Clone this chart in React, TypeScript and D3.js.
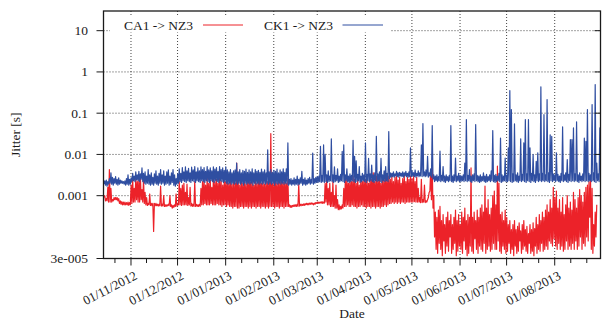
import React from "react"
import * as d3 from "d3"

// jitter in milliseconds, one low / high pair per day, day 0 = 14 Oct 2012
const caLo = [
  0.9, 0.75, 0.75, 0.7, 0.7, 0.7, 0.75, 0.8, 0.8, 0.75,
  0.65, 0.62, 0.6, 0.6, 0.6, 0.6, 0.58, 0.6, 0.65, 0.7,
  0.7, 0.8, 0.7, 0.7, 0.8, 0.7, 0.65, 0.6, 0.58, 0.6,
  0.58, 0.57, 0.136, 0.57, 0.57, 0.56, 0.57, 0.56, 0.56, 0.55,
  0.55, 0.57, 0.57, 0.55, 0.5, 0.52, 0.55, 0.56, 0.6, 0.6,
  0.58, 0.6, 0.6, 0.6, 0.58, 0.6, 0.56, 0.55, 0.55, 0.55,
  0.55, 0.55, 0.55, 0.6, 0.6, 0.65, 0.6, 0.6, 0.6, 0.65,
  0.6, 0.6, 0.6, 0.65, 0.6, 0.6, 0.55, 0.6, 0.6, 0.55,
  0.6, 0.55, 0.55, 0.5, 0.55, 0.55, 0.5, 0.5, 0.55, 0.55,
  0.5, 0.55, 0.55, 0.5, 0.55, 0.5, 0.55, 0.55, 0.5, 0.55,
  0.55, 0.5, 0.55, 0.55, 0.5, 0.55, 0.5, 0.55, 0.55, 0.55,
  0.5, 0.55, 0.55, 0.5, 0.55, 0.55, 0.5, 0.55, 0.55, 0.55,
  0.52, 0.52, 0.55, 0.55, 0.55, 0.55, 0.56, 0.57, 0.58, 0.58,
  0.6, 0.6, 0.6, 0.62, 0.62, 0.6, 0.62, 0.65, 0.65, 0.66,
  0.66, 0.65, 0.66, 0.7, 0.6, 0.6, 0.55, 0.55, 0.55, 0.5,
  0.5, 0.46, 0.46, 0.48, 0.5, 0.55, 0.55, 0.6, 0.55, 0.55,
  0.6, 0.55, 0.55, 0.5, 0.55, 0.55, 0.6, 0.55, 0.55, 0.5,
  0.55, 0.55, 0.5, 0.55, 0.55, 0.5, 0.55, 0.55, 0.5, 0.55,
  0.55, 0.6, 0.55, 0.6, 0.65, 0.65, 0.7, 0.65, 0.7, 0.65,
  0.7, 0.65, 0.7, 0.7, 0.65, 0.7, 0.7, 0.7, 0.7, 0.7,
  0.72, 0.7, 0.7, 0.7, 0.68, 0.68, 0.7, 0.68, 0.7, 0.9,
  1.3, 0.8, 0.5, 0.1, 0.05, 0.04, 0.07, 0.05, 0.035, 0.08,
  0.04, 0.06, 0.045, 0.1, 0.04, 0.05, 0.07, 0.035, 0.045, 0.06,
  0.05, 0.04, 0.08, 0.05, 0.035, 0.04, 0.06, 0.045, 0.04, 0.09,
  0.05, 0.04, 0.06, 0.05, 0.045, 0.07, 0.04, 0.05, 0.06, 0.045,
  0.05, 0.07, 0.05, 0.05, 0.08, 0.045, 0.04, 0.06, 0.05, 0.04,
  0.045, 0.07, 0.04, 0.05, 0.035, 0.06, 0.04, 0.045, 0.08, 0.04,
  0.05, 0.06, 0.045, 0.04, 0.07, 0.04, 0.045, 0.035, 0.06, 0.04,
  0.05, 0.045, 0.07, 0.045, 0.05, 0.06, 0.05, 0.08, 0.07, 0.06,
  0.09, 0.06, 0.05, 0.07, 0.05, 0.06, 0.045, 0.05, 0.08, 0.05,
  0.06, 0.05, 0.07, 0.05, 0.08, 0.05, 0.06, 0.1, 0.05, 0.07,
  0.06, 0.1, 0.08, 0.3, 0.05, 0.04, 0.06, 0.1,
]
const caHi = [
  1.0, 0.85, 1.6, 4.3, 1.5, 0.8, 0.9, 0.9, 0.9, 0.85,
  0.75, 0.72, 0.7, 0.7, 0.68, 0.7, 0.68, 1.8, 2.6, 1.5,
  2.7, 2.2, 2.5, 2.8, 1.4, 2.6, 1.2, 0.9, 0.65, 1.1,
  0.65, 0.65, 0.65, 0.65, 0.62, 0.62, 1.7, 0.62, 1.0, 0.6,
  0.6, 0.62, 1.0, 0.6, 0.58, 0.6, 1.1, 0.62, 2.2, 1.5,
  1.8, 2.0, 1.2, 1.9, 0.9, 1.6, 0.65, 0.62, 2.2, 0.62,
  0.6, 0.62, 1.5, 2.2, 2.5, 1.8, 2.7, 2.0, 2.4, 1.6,
  2.6, 2.2, 2.5, 2.0, 2.7, 2.3, 1.8, 2.5, 2.2, 2.4,
  2.0, 2.6, 1.9, 2.2, 2.0, 6.2, 2.3, 1.8, 2.4, 2.0,
  2.5, 1.9, 2.2, 3.0, 2.1, 2.4, 1.8, 2.6, 2.0, 2.3,
  3.4, 2.0, 2.5, 1.9, 2.4, 2.2, 2.6, 32, 2.0, 2.3,
  2.6, 2.0, 2.4, 2.2, 2.7, 2.1, 2.5, 2.0, 2.6, 0.6,
  0.58, 0.58, 0.6, 0.6, 0.62, 1.9, 0.62, 0.62, 0.63, 0.64,
  0.65, 0.65, 0.66, 0.67, 0.66, 0.66, 0.68, 0.7, 0.7, 0.7,
  0.72, 0.7, 2.0, 2.4, 1.5, 2.0, 1.2, 2.2, 1.0, 1.8,
  0.8, 0.6, 0.55, 0.6, 1.5, 2.4, 3.0, 2.0, 2.8, 2.2,
  3.0, 2.5, 2.0, 2.8, 1.8, 2.6, 2.2, 3.0, 2.4, 2.8,
  2.0, 3.2, 2.5, 3.6, 2.2, 3.0, 2.5, 3.3, 2.0, 2.8,
  2.4, 3.2, 2.6, 3.0, 2.5, 3.0, 2.2, 2.8, 3.0, 2.4,
  2.8, 2.0, 2.6, 3.0, 2.2, 2.8, 2.5, 3.0, 2.6, 2.9,
  2.2, 2.8, 1.5, 0.9, 2.5, 0.8, 1.8, 0.75, 0.8, 1.2,
  4.3, 5.0, 1.0, 0.4, 0.3, 0.45, 0.55, 0.25, 0.35, 0.2,
  0.3, 0.4, 0.25, 0.35, 0.2, 0.3, 0.45, 0.25, 0.35, 0.2,
  0.4, 0.3, 0.5, 0.25, 0.35, 0.3, 4.7, 0.3, 0.4, 0.25,
  0.45, 0.3, 0.5, 0.6, 0.4, 1.7, 0.5, 0.8, 0.35, 0.5,
  1.0, 1.3, 0.6, 5.2, 2.0, 0.35, 0.4, 0.25, 0.45, 0.3,
  0.2, 0.25, 0.15, 0.2, 0.25, 0.15, 0.18, 0.22, 0.14, 0.2,
  0.25, 0.15, 0.18, 0.12, 0.2, 0.15, 0.22, 0.16, 0.3, 0.2,
  0.35, 0.25, 0.4, 0.3, 0.45, 0.6, 0.4, 0.8, 0.5, 1.6,
  0.9, 1.3, 0.5, 0.8, 0.4, 0.9, 0.35, 0.6, 1.0, 0.5,
  0.7, 0.45, 1.2, 0.8, 0.5, 0.9, 1.4, 1.0, 0.7, 1.2,
  1.6, 1.8, 2.2, 2.4, 1.5, 0.2, 0.4, 0.6,
]
const ckLo = [
  1.9, 1.8, 1.7, 1.9, 2.0, 1.9, 1.8, 2.0, 1.9, 1.8,
  1.9, 2.0, 2.0, 1.9, 1.8, 1.9, 1.8, 1.9, 2.2, 2.3,
  2.2, 2.4, 2.3, 2.2, 2.5, 2.2, 2.0, 1.9, 2.0, 1.9,
  1.8, 1.9, 1.8, 2.0, 1.9, 1.8, 2.0, 1.9, 2.0, 1.8,
  1.9, 2.0, 1.8, 1.9, 2.1, 1.8, 1.7, 1.9, 2.0, 2.2,
  2.1, 2.3, 2.2, 2.1, 2.3, 2.2, 2.1, 2.3, 2.2, 2.1,
  2.3, 2.2, 2.1, 2.3, 2.2, 2.1, 2.3, 2.2, 2.1, 2.3,
  2.2, 2.1, 2.3, 2.2, 2.1, 2.3, 2.2, 2.1, 2.2, 2.0,
  1.9, 2.0, 1.9, 2.0, 1.9, 2.0, 1.9, 2.0, 1.9, 2.0,
  1.8, 2.0, 1.9, 2.0, 1.9, 2.0, 1.8, 2.0, 1.9, 2.0,
  1.9, 2.0, 1.9, 2.0, 1.9, 2.0, 1.9, 2.0, 1.9, 2.0,
  1.8, 2.0, 1.9, 2.0, 1.9, 2.0, 1.9, 2.0, 1.9, 1.8,
  1.9, 1.8, 1.9, 1.8, 1.9, 1.8, 1.9, 2.0, 1.8, 1.9,
  1.8, 1.9, 2.0, 1.9, 2.0, 1.9, 2.0, 2.1, 2.1, 2.2,
  2.1, 2.2, 2.1, 2.2, 2.1, 2.2, 2.3, 2.2, 2.1, 2.2,
  2.3, 2.1, 2.2, 2.3, 2.2, 2.1, 2.3, 2.2, 2.1, 2.2,
  2.3, 2.2, 2.1, 2.2, 2.3, 2.1, 2.2, 2.3, 2.2, 2.1,
  2.3, 2.2, 2.3, 2.2, 2.1, 2.3, 2.2, 2.3, 2.2, 2.1,
  2.3, 2.2, 2.3, 2.2, 2.6, 2.8, 2.9, 2.8, 3.0, 2.9,
  2.8, 3.0, 2.9, 2.8, 3.0, 2.9, 2.8, 2.9, 2.9, 3.0,
  2.9, 2.8, 3.0, 2.9, 3.0, 2.9, 3.0, 2.9, 3.0, 2.8,
  3.0, 2.8, 2.5, 2.2, 2.3, 2.2, 2.3, 2.2, 2.3, 2.2,
  2.1, 2.3, 2.2, 2.3, 2.2, 2.1, 2.3, 2.2, 2.3, 2.2,
  2.2, 2.3, 2.2, 2.3, 2.2, 2.3, 2.2, 2.1, 2.3, 2.2,
  2.3, 2.2, 2.1, 2.2, 2.3, 2.2, 2.1, 2.2, 2.3, 2.2,
  2.3, 2.2, 2.1, 2.2, 2.3, 2.2, 2.1, 2.2, 2.3, 2.2,
  2.2, 2.3, 2.2, 2.1, 2.2, 2.3, 2.2, 2.1, 2.3, 2.2,
  2.3, 2.2, 2.1, 2.3, 2.2, 2.1, 2.3, 2.2, 2.1, 2.3,
  2.2, 2.3, 2.2, 2.3, 2.2, 2.3, 2.2, 2.1, 2.3, 2.2,
  2.3, 2.2, 2.3, 2.2, 2.1, 2.3, 2.2, 2.3, 2.2, 2.1,
  2.3, 2.2, 2.3, 2.2, 2.3, 2.2, 2.1, 2.3, 2.2, 2.3,
  2.2, 2.3, 2.2, 2.3, 2.2, 2.3, 2.2, 2.1, 2.3, 2.2, 2.3,
]
const ckHi = [
  2.3, 2.4, 2.2, 2.6, 3.6, 2.8, 2.6, 2.9, 2.5, 2.7,
  2.4, 2.3, 2.2, 2.3, 2.6, 3.2, 2.5, 2.7, 3.5, 3.0,
  3.8, 3.2, 3.9, 3.4, 4.7, 3.5, 3.8, 3.0, 4.3, 3.2,
  3.6, 2.8, 3.4, 4.0, 3.0, 3.5, 4.3, 3.2, 4.0, 3.0,
  3.8, 4.2, 3.0, 3.6, 4.3, 3.2, 2.6, 3.4, 4.5, 3.5,
  4.8, 3.8, 5.0, 4.0, 4.6, 3.6, 4.9, 4.2, 5.1, 3.8,
  4.7, 4.0, 5.0, 4.3, 4.8, 3.9, 5.1, 4.2, 4.7, 4.0,
  5.0, 4.4, 4.8, 3.9, 5.1, 4.3, 4.7, 4.1, 5.0, 4.2,
  3.8, 4.3, 3.6, 4.0, 4.2, 6.2, 3.8, 4.3, 3.6, 4.1,
  3.9, 4.4, 3.7, 4.2, 3.8, 4.5, 3.6, 4.3, 3.9, 4.1,
  3.7, 4.4, 3.8, 4.2, 3.6, 13, 3.8, 4.3, 3.7, 4.1,
  3.9, 4.4, 3.6, 4.2, 3.8, 4.5, 3.7, 4.5, 19, 2.5,
  2.6, 2.4, 2.7, 2.5, 3.0, 2.5, 2.7, 3.9, 2.5, 2.7,
  2.4, 2.6, 2.8, 2.5, 10.8, 2.6, 2.8, 2.9, 3.0, 15.7,
  3.1, 17, 10, 3.2, 4.0, 3.0, 23.7, 3.2, 5.0, 3.1,
  4.5, 3.0, 3.3, 11.8, 17, 3.2, 4.5, 3.0, 3.4, 3.1,
  22, 9, 7, 3.3, 5.1, 3.0, 3.5, 3.2, 19, 3.3,
  8, 3.4, 5.5, 3.2, 3.6, 27.5, 3.4, 3.8, 8, 3.2,
  4.0, 5.1, 3.5, 36, 3.6, 3.5, 3.8, 3.4, 3.9, 3.6,
  3.7, 3.5, 3.8, 3.6, 3.9, 3.5, 3.8, 14.5, 4.0, 3.6,
  4.2, 3.5, 4.0, 3.6, 17, 56, 3.8, 4.2, 9, 3.6,
  4.5, 50, 3.2, 3.0, 3.2, 2.9, 12, 3.1, 5.1, 3.0,
  3.2, 2.9, 3.1, 50, 3.0, 3.2, 8.2, 3.0, 3.5, 3.1,
  3.0, 3.2, 6.2, 70, 3.1, 4.3, 3.0, 3.2, 3.4, 53,
  3.1, 3.0, 3.2, 2.9, 3.6, 3.0, 3.3, 2.9, 3.2, 4.0,
  38, 3.1, 3.3, 3.0, 3.5, 25, 3.2, 3.0, 8.2, 3.1,
  14.4, 353, 122, 3.4, 55, 3.2, 3.6, 3.0, 24, 3.3,
  19, 70, 3.4, 70, 14.4, 3.5, 9.9, 3.2, 6.8, 10.9,
  3.4, 435, 3.5, 92, 3.2, 214, 3.6, 30, 27.5, 3.4,
  3.2, 10.9, 3.3, 3.0, 3.5, 46.5, 3.2, 3.6, 7.5, 3.3,
  23, 23, 44, 3.4, 61.5, 3.2, 3.6, 3.0, 3.4, 25,
  20.7, 122, 3.5, 3.2, 162, 3.6, 494, 6.2, 3.4, 44, 3.0,
]

const seriesNames = ["CA1 -> NZ3", "CK1 -> NZ3"]
const seriesColors = ["#ec2229", "#2f4ea1"]
const yTickValues = [3e-5, 0.001, 0.01, 0.1, 1, 10]
const yTickLabels = ["3e-005", "0.001", "0.01", "0.1", "1", "10"]
const yGridValues = [0.001, 0.01, 0.1, 1, 10]
const xTickLabels = [
  "01/11/2012", "01/12/2012", "01/01/2013", "01/02/2013", "01/03/2013",
  "01/04/2013", "01/05/2013", "01/06/2013", "01/07/2013", "01/08/2013",
]

const W = 605
const H = 323
const P = { left: 103.5, right: 600.5, top: 11, bottom: 258.5 }
const FONT = "'Liberation Serif', 'DejaVu Serif', Times, serif"
const DAY = 86400000

export default function App() {
  const parse = d3.timeParse("%d/%m/%Y")
  const months = xTickLabels.map(s => parse(s) as Date)

  const x = d3.scaleTime()
    .domain([new Date(2012, 9, 14, 7), new Date(2013, 7, 30, 12)])
    .range([P.left, P.right])
  const y = d3.scaleLog().domain([3e-5, 30]).range([P.bottom, P.top])

  const t0 = new Date(2012, 9, 14, 14).getTime()
  const build = (lo: number[], hi: number[]) =>
    lo.flatMap((v, i) => [
      [t0 + i * DAY, v / 1000],
      [t0 + (i + 0.5) * DAY, hi[i] / 1000],
    ] as [number, number][])

  const line = d3.line<[number, number]>()
    .x(d => x(new Date(d[0])))
    .y(d => y(d[1]))

  const series = [build(caLo, caHi), build(ckLo, ckHi)]

  // minor ticks: thirds of each month interval
  const edges = [d3.timeMonth.offset(months[0], -1), ...months, d3.timeMonth.offset(months[months.length - 1], 1)]
  const [d0, d1] = x.domain()
  const minor: Date[] = []
  for (let i = 0; i < edges.length - 1; i++) {
    const a = edges[i].getTime(), b = edges[i + 1].getTime()
    for (const k of [1, 2]) {
      const t = new Date(a + (b - a) * k / 3)
      if (t >= d0 && t <= d1) minor.push(t)
    }
  }

  const ink = "#1a1a1a"

  return (
    <svg width={W} height={H}
      style={{ position: "absolute", left: 0, top: 0, background: "#fff", fontFamily: FONT }}>
      <defs>
        <clipPath id="plotclip">
          <rect x={P.left} y={P.top} width={P.right - P.left} height={P.bottom - P.top} />
        </clipPath>
      </defs>
      <rect width={W} height={H} fill="#fff" />

      {/* grid */}
      <g stroke="#444" strokeWidth={1} strokeDasharray="1,2" fill="none">
        {months.map((m, i) => (
          <line key={"gx" + i} x1={x(m)} x2={x(m)} y1={P.top} y2={P.bottom} />
        ))}
        {yGridValues.map((v, i) => (
          <line key={"gy" + i} x1={P.left} x2={P.right} y1={y(v)} y2={y(v)} />
        ))}
      </g>

      {/* data */}
      <g clipPath="url(#plotclip)" fill="none" strokeWidth={1.2} strokeLinejoin="round">
        {series.map((s, i) => (
          <path key={i} d={line(s) ?? ""} stroke={seriesColors[i]} />
        ))}
      </g>

      {/* border */}
      <rect x={P.left} y={P.top} width={P.right - P.left} height={P.bottom - P.top}
        fill="none" stroke={ink} strokeWidth={1.3} />

      {/* y ticks */}
      <g stroke={ink} strokeWidth={1}>
        {yTickValues.map((v, i) => (
          <g key={"yt" + i}>
            <line x1={P.left - 7} x2={P.left} y1={y(v)} y2={y(v)} />
            <line x1={P.right - 6} x2={P.right} y1={y(v)} y2={y(v)} />
          </g>
        ))}
      </g>
      <g fontSize={13.5} fill={ink} textAnchor="end">
        {yTickValues.map((v, i) => (
          <text key={"yl" + i} x={88} y={y(v)} dy="0.33em">{yTickLabels[i]}</text>
        ))}
      </g>

      {/* x ticks */}
      <g stroke={ink} strokeWidth={1}>
        {months.map((m, i) => (
          <line key={"xt" + i} x1={x(m)} x2={x(m)} y1={P.bottom} y2={P.bottom + 7} />
        ))}
        {minor.map((m, i) => (
          <line key={"xm" + i} x1={x(m)} x2={x(m)} y1={P.bottom} y2={P.bottom + 4.5} />
        ))}
      </g>
      <g fontSize={13} fill={ink} textAnchor="end">
        {months.map((m, i) => (
          <text key={"xl" + i} transform={`translate(${x(m) + 7},${P.bottom + 20}) rotate(-27)`}>
            {xTickLabels[i]}
          </text>
        ))}
      </g>

      {/* axis titles */}
      <text x={(P.left + P.right) / 2} y={318} fontSize={13.5} textAnchor="middle" fill={ink}>Date</text>
      <text transform={`translate(20,${(P.top + P.bottom) / 2}) rotate(-90)`} fontSize={13.5}
        textAnchor="middle" fill={ink}>Jitter [s]</text>

      {/* legend */}
      <rect x={110} y={16.5} width={280} height={16} fill="#fff" />
      <g fontSize={13.5} fill={ink} textAnchor="end">
        {seriesNames.map((n, i) => (
          <g key={"lg" + i}>
            <text x={193 + i * 140} y={30}>{n}</text>
            <line x1={203 + i * 139.5} x2={243 + i * 140} y1={25} y2={25}
              stroke={seriesColors[i]} strokeWidth={1} />
          </g>
        ))}
      </g>
    </svg>
  )
}
